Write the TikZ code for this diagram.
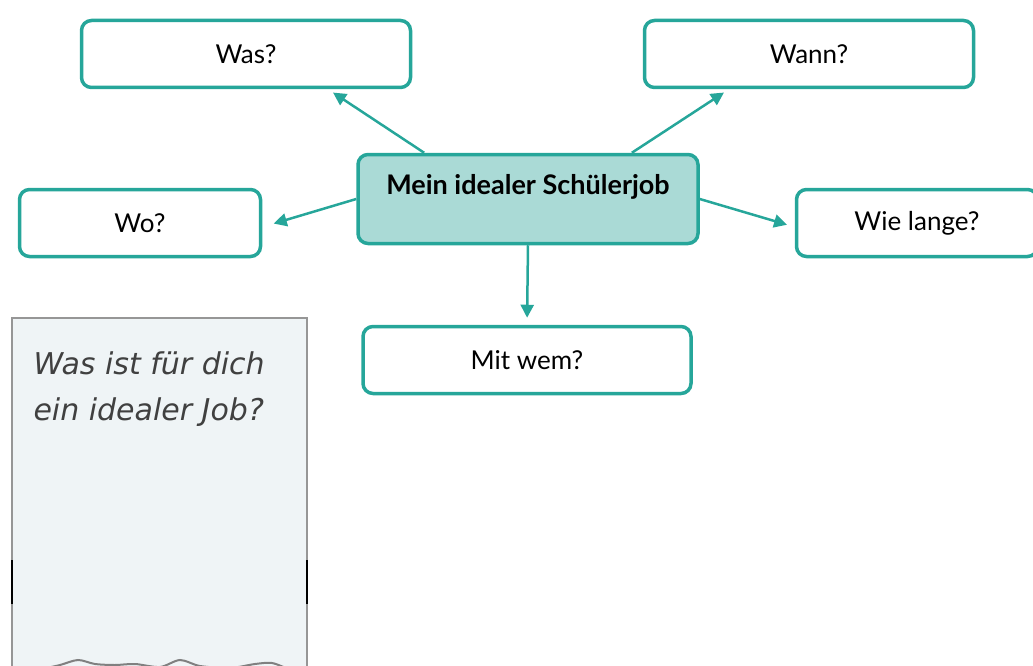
\documentclass[tikz,border=0pt]{standalone}
\usepackage{fontspec}
\setmainfont{Lato}
\newfontfamily\handfont{DejaVu Sans}
\usetikzlibrary{arrows.meta}
\definecolor{jobteal}{RGB}{38,166,154}
\definecolor{jobfill}{RGB}{170,218,214}
\definecolor{notefill}{RGB}{239,244,246}
\definecolor{notegray}{RGB}{150,150,150}
\tikzset{
    qbox/.style={draw=jobteal, line width=3.5pt, rounded corners=10pt, fill=white,
        minimum width=329pt, minimum height=67pt, inner sep=0pt,
        font=\fontsize{26}{30}\selectfont},
    mainbox/.style={qbox, fill=jobfill, minimum width=340pt, minimum height=89pt,
        text height=18pt, text depth=28pt, font=\bfseries\fontsize{27}{31}\selectfont},
    link/.style={draw=jobteal, line width=2.5pt, -{Triangle[length=13pt,width=13pt]}}
}
\begin{document}
\begin{tikzpicture}[x=1pt, y=-1pt]
        \useasboundingbox (0,0) rectangle (1033,666);
        \clip (0,0) rectangle (1033,666);
        % note panel
        \draw [notegray, line width=2pt, fill=notefill] (12,700) -- (12,318) -- (307,318) -- (307,700);
        \draw [black, line width=1.5pt] (12,560) -- (12,604);
        \draw [black, line width=1.5pt] (307,560) -- (307,604);
        \node [anchor=north west, align=left, text=black!75, font=\handfont\itshape\fontsize{30}{46}\selectfont] (note) at (30,348) {Was ist für dich\\ein idealer Job?};
        \draw [gray, line width=2pt] plot [smooth] coordinates {(42,669) (60,665) (78,660) (95,664) (115,665) (135,664) (160,667) (180,660) (200,666) (230,668) (255,664) (272,663) (288,669)};
        % mind map
        \node [mainbox] (job) at (528,199) {Mein idealer Schülerjob};
        \node [qbox] (was) at (246,54) {Was?};
        \node [qbox] (wann) at (809,54) {Wann?};
        \node [qbox, minimum width=241pt] (wo) at (140,223) {Wo?};
        \node [qbox, minimum width=241pt] (wie) at (917,223) {Wie lange?};
        \node [qbox, minimum width=328pt] (mit) at (527,360) {Mit wem?};
        \draw [link, shorten >=6pt] (job.156) -- ([xshift=82pt]was.south);
        \draw [link, shorten >=6pt] (job.24) -- ([xshift=-80pt]wann.south);
        \draw [link, shorten >=12pt] (job.west) -- ([yshift=-4pt]wo.east);
        \draw [link, shorten >=8pt] (job.east) -- ([yshift=-4pt]wie.west);
        \draw [link, shorten >=7pt] (job.south) -- (mit.north);
    \end{tikzpicture}
\end{document}
